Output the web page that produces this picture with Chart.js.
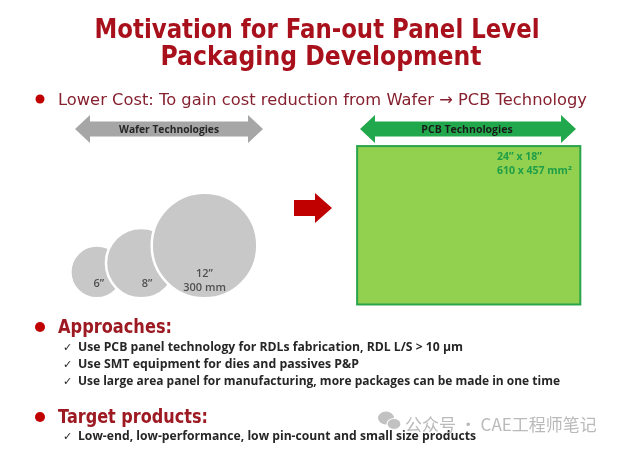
<!DOCTYPE html>
<html>
<head>
<meta charset="utf-8">
<script src="https://cdn.jsdelivr.net/npm/chart.js@4"></script>
<style>
  html, body { margin: 0; padding: 0; background: #fff; }
  canvas { display: block; }
</style>
</head>
<body>
<canvas id="slide" width="621" height="452"></canvas>
<script>
// Wafer sizes (inch) and their notes
const waferSizes = [6, 8, 12];
const waferNotes = ["", "", "300 mm"];

// PCB panel size
const panelSize = [24, 18];     // inch, w x h
const panelMm = [610, 457];     // mm

// Slide text
const titleLines = ["Motivation for Fan-out Panel Level", "Packaging Development"];
const costLine = "Lower Cost: To gain cost reduction from Wafer \u2192 PCB Technology";
const approaches = [
  "Use PCB panel technology for RDLs fabrication, RDL L/S > 10 \u03bcm",
  "Use SMT equipment for dies and passives P&P",
  "Use large area panel for manufacturing, more packages can be made in one time"
];
const targets = ["Low-end, low-performance, low pin-count and small size products"];

// layout (in inches on the hidden scales)
const waferLeft = 8;      // left edge of the first wafer
const waferBase = 33.9;   // common bottom line of wafers
const panelLeft = 38.4;
const panelTop = 16.6;

// place wafers: bottoms aligned, each one overlapping the previous
const waferPoints = [];
let cx = 0;
waferSizes.forEach((d, i) => {
  const r = d / 2;
  if (i === 0) cx = waferLeft + r;
  else cx += (waferSizes[i - 1] / 2 + r) * 0.72;
  waferPoints.push({ x: cx, y: waferBase - r, d: d });
});

const RED = "#c00000";

// pixel length of a distance on a linear scale
function pxLen(scale, v) {
  const p = Math.abs(scale.getPixelForValue(v) - scale.getPixelForValue(0));
  return isFinite(p) ? p : 0;
}

function txt(ctx, s, x, y, font, color, align, maxW) {
  ctx.font = font;
  ctx.fillStyle = color;
  ctx.textAlign = align || "left";
  ctx.textBaseline = "alphabetic";
  const w = ctx.measureText(s).width;
  if (maxW && w > maxW) ctx.fillText(s, x, y, maxW);
  else ctx.fillText(s, x, y);
}

function dot(ctx, x, y, r, color) {
  ctx.beginPath();
  ctx.arc(x, y, r, 0, Math.PI * 2);
  ctx.fillStyle = color;
  ctx.fill();
}

function doubleArrow(ctx, x0, x1, yc, headLen, headH, shaftH, color) {
  ctx.beginPath();
  ctx.moveTo(x0, yc);
  ctx.lineTo(x0 + headLen, yc - headH / 2);
  ctx.lineTo(x0 + headLen, yc - shaftH / 2);
  ctx.lineTo(x1 - headLen, yc - shaftH / 2);
  ctx.lineTo(x1 - headLen, yc - headH / 2);
  ctx.lineTo(x1, yc);
  ctx.lineTo(x1 - headLen, yc + headH / 2);
  ctx.lineTo(x1 - headLen, yc + shaftH / 2);
  ctx.lineTo(x0 + headLen, yc + shaftH / 2);
  ctx.lineTo(x0 + headLen, yc + headH / 2);
  ctx.closePath();
  ctx.fillStyle = color;
  ctx.fill();
}

const slidePlugin = {
  id: "slide",
  beforeDatasetsDraw(chart) {
    const ctx = chart.ctx;
    const xp = chart.scales.x, y = chart.scales.y;
    ctx.save();

    // title
    txt(ctx, titleLines[0], 317, 38, "bold 26px 'DejaVu Sans'", "#a8101c", "center", 445);
    txt(ctx, titleLines[1], 321, 65, "bold 26px 'DejaVu Sans'", "#a8101c", "center", 321);

    // lower cost
    dot(ctx, 40, 99, 4.5, RED);
    txt(ctx, costLine, 58, 104.5, "16.5px 'DejaVu Sans'", "#86202f", "left", 529);

    // technology arrows
    doubleArrow(ctx, 75, 263, 129, 15, 28, 15, "#a6a6a6");
    txt(ctx, "Wafer Technologies", 169, 133, "bold 10.5px 'Open Sans'", "#262626", "center", 100);
    doubleArrow(ctx, 360, 576, 129, 15, 28, 15, "#22a84c");
    txt(ctx, "PCB Technologies", 467, 133, "bold 10.5px 'Open Sans'", "#1a1a1a", "center", 100);

    // PCB panel drawn from its size
    const px0 = xp.getPixelForValue(panelLeft);
    const px1 = xp.getPixelForValue(panelLeft + panelSize[0]);
    const py0 = y.getPixelForValue(panelTop);
    const py1 = y.getPixelForValue(panelTop + panelSize[1]);
    ctx.fillStyle = "#92d050";
    ctx.fillRect(px0, py0, px1 - px0, py1 - py0);
    ctx.strokeStyle = "#2aa44a";
    ctx.lineWidth = 2;
    ctx.strokeRect(px0, py0, px1 - px0, py1 - py0);
    txt(ctx, panelSize[0] + "\u201d x " + panelSize[1] + "\u201d", 497, 160, "bold 10.5px 'Open Sans'", "#1f9e48", "left");
    txt(ctx, panelMm[0] + " x " + panelMm[1] + " mm\u00b2", 497, 174, "bold 10.5px 'Open Sans'", "#1f9e48", "left", 77);

    // red arrow wafer -> panel
    ctx.beginPath();
    ctx.moveTo(294, 200); ctx.lineTo(315, 200); ctx.lineTo(315, 193);
    ctx.lineTo(332, 208); ctx.lineTo(315, 223); ctx.lineTo(315, 216);
    ctx.lineTo(294, 216); ctx.closePath();
    ctx.fillStyle = RED;
    ctx.fill();

    // approaches
    dot(ctx, 40, 327, 5, RED);
    txt(ctx, "Approaches:", 58, 333, "bold 19px 'DejaVu Sans'", "#9e1a22", "left", 114);
    const bodyY = [351, 368, 385];
    const bodyW = [385, 281, 482];
    approaches.forEach((s, i) => {
      txt(ctx, "\u2713", 63, bodyY[i], "11px 'DejaVu Sans'", "#222", "left");
      txt(ctx, s, 78, bodyY[i], "bold 12.5px 'Open Sans'", "#262626", "left", bodyW[i]);
    });

    // target products
    dot(ctx, 40, 417, 5, RED);
    txt(ctx, "Target products:", 58, 423, "bold 19px 'DejaVu Sans'", "#9e1a22", "left", 150);
    targets.forEach((s, i) => {
      txt(ctx, "\u2713", 63, 440 + i * 17, "11px 'DejaVu Sans'", "#222", "left");
      txt(ctx, s, 78, 440 + i * 17, "bold 12.5px 'Open Sans'", "#262626", "left", 398);
    });

    // watermark
    ctx.fillStyle = "#c2c2c2";
    ctx.beginPath(); ctx.ellipse(386, 418, 8, 6.5, 0, 0, Math.PI * 2); ctx.fill();
    ctx.strokeStyle = "#fff";
    ctx.lineWidth = 1.2;
    ctx.beginPath(); ctx.ellipse(394, 424, 7, 5.5, 0, 0, Math.PI * 2); ctx.fill(); ctx.stroke();
    txt(ctx, "\u516c\u4f17\u53f7 \u00b7 CAE\u5de5\u7a0b\u5e08\u7b14\u8bb0", 405, 431, "17px 'Noto Sans CJK SC'", "#bababa", "left", 195);

    ctx.restore();
  },
  afterDatasetsDraw(chart) {
    const ctx = chart.ctx;
    const xw = chart.scales.xw, y = chart.scales.y;
    ctx.save();
    const bottom = y.getPixelForValue(waferBase);
    waferPoints.forEach((p, i) => {
      const x = xw.getPixelForValue(p.x);
      const font = "600 11px 'Open Sans'";
      if (waferNotes[i]) {
        txt(ctx, waferSizes[i] + "\u201d", x, bottom - 21, font, "#505050", "center");
        txt(ctx, waferNotes[i], x, bottom - 7, font, "#505050", "center");
      } else {
        txt(ctx, waferSizes[i] + "\u201d", x + (i ? 6 : 2), bottom - 11, font, "#505050", "center");
      }
    });
    ctx.restore();
  }
};

new Chart(document.getElementById("slide"), {
  type: "scatter",
  data: {
    datasets: [{
      label: "Wafers",
      data: waferPoints,
      xAxisID: "xw",
      yAxisID: "y",
      showLine: false,
      clip: false,
      pointBackgroundColor: "#c8c8c8",
      pointBorderColor: "#ffffff",
      pointBorderWidth: 2.5,
      pointRadius: c => (c.raw ? pxLen(c.chart.scales.xw, c.raw.d / 2) : 0),
      pointHoverRadius: c => (c.raw ? pxLen(c.chart.scales.xw, c.raw.d / 2) : 0)
    }]
  },
  options: {
    responsive: false,
    animation: false,
    events: [],
    layout: { padding: 0, autoPadding: false },
    plugins: { legend: { display: false }, tooltip: { enabled: false } },
    scales: {
      x: { type: "linear", display: false, min: 0, max: 621 / 9.3 },
      xw: { type: "linear", display: false, min: 0, max: 621 / 8.8 },
      y: { type: "linear", display: false, reverse: true, min: 0, max: 452 / 8.8 }
    }
  },
  plugins: [slidePlugin]
});
</script>
</body>
</html>
